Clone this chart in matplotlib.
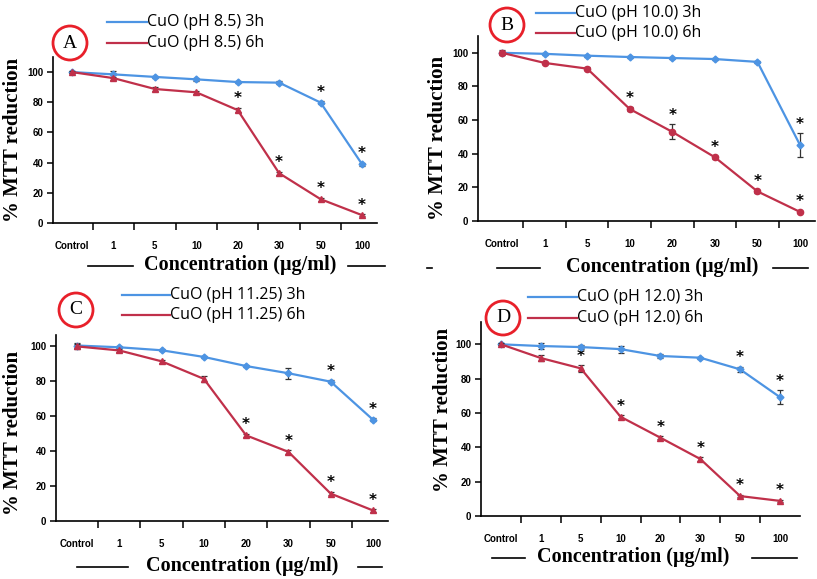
import matplotlib.pyplot as plt
from matplotlib.lines import Line2D
from matplotlib.patches import Ellipse

W, H = 817, 579

categories = ["Control", "1", "5", "10", "20", "30", "50", "100"]

# panel A: CuO pH 8.5
a_3h = [100, 98.5, 96.8, 95.2, 93.4, 93.0, 79.8, 39.0]
a_6h = [100, 96.0, 88.8, 86.6, 74.8, 33.0, 15.8, 5.2]
a_3h_err = [0.5, 2.5, 0.8, 0.8, 0.8, 0.8, 1.0, 1.0]
a_6h_err = [0.8, 1.0, 1.5, 1.2, 1.5, 1.0, 1.0, 0.8]
a_3h_star = [6, 7]
a_6h_star = [4, 5, 6, 7]

# panel B: CuO pH 10.0
b_3h = [100, 99.4, 98.3, 97.5, 96.9, 96.3, 94.6, 45.2]
b_6h = [100, 94.0, 90.6, 66.6, 53.0, 37.9, 17.6, 5.4]
b_3h_err = [0.5, 0.5, 0.5, 0.5, 0.5, 0.5, 0.5, 7.0]
b_6h_err = [1.5, 0.8, 0.8, 1.2, 4.5, 0.8, 0.8, 0.8]
b_3h_star = [7]
b_6h_star = [3, 4, 5, 6, 7]

# panel C: CuO pH 11.25
c_3h = [100, 99.0, 97.3, 93.5, 88.3, 84.2, 79.4, 57.7]
c_6h = [99.5, 97.2, 91.0, 81.0, 48.8, 39.4, 15.6, 6.0]
c_3h_err = [1.5, 0.5, 0.5, 0.8, 0.8, 3.0, 0.8, 0.8]
c_6h_err = [1.5, 0.8, 0.8, 1.5, 1.0, 1.0, 1.0, 0.8]
c_3h_star = [6, 7]
c_6h_star = [4, 5, 6, 7]

# panel D: CuO pH 12.0
d_3h = [100, 99.0, 98.4, 97.2, 93.2, 92.2, 85.4, 69.2]
d_6h = [100, 92.0, 86.0, 57.8, 45.6, 33.2, 11.6, 8.8]
d_3h_err = [0.5, 1.5, 1.0, 2.0, 1.0, 0.5, 1.5, 4.0]
d_6h_err = [0.5, 1.5, 2.0, 1.0, 1.0, 1.0, 0.8, 0.8]
d_3h_star = [6, 7]
d_6h_star = [2, 3, 4, 5, 6, 7]

BLUE = "#4d94e3"
RED = "#c0304a"

# layout in pixels: spine left/right, y of 0, y of top, ymax, centre of first/last category
panels = [
    dict(letter="A", ph="8.5", s3=a_3h, s6=a_6h, e3=a_3h_err, e6=a_6h_err,
         st3=a_3h_star, st6=a_6h_star, m6="^",
         L=53, R=377, B=223, T=57, ymax=110, c0=72, c7=362,
         leg=(107, 147, 22, 43), circ=(70, 43), ylab=(13, 140),
         xlab=(240, 265, (88, 133), (348, 385))),
    dict(letter="B", ph="10.0", s3=b_3h, s6=b_6h, e3=b_3h_err, e6=b_6h_err,
         st3=b_3h_star, st6=b_6h_star, m6="o",
         L=478, R=815, B=221, T=36, ymax=110, c0=502, c7=800,
         leg=(536, 575, 13, 33), circ=(507, 25), ylab=(438, 138),
         xlab=(662, 267, (497, 540), (773, 808))),
    dict(letter="C", ph="11.25", s3=c_3h, s6=c_6h, e3=c_3h_err, e6=c_6h_err,
         st3=c_3h_star, st6=c_6h_star, m6="^",
         L=56, R=388, B=521, T=335, ymax=106, c0=77, c7=373,
         leg=(122, 170, 295, 315), circ=(76, 310), ylab=(13, 433),
         xlab=(242, 566, (77, 128), (358, 382))),
    dict(letter="D", ph="12.0", s3=d_3h, s6=d_6h, e3=d_3h_err, e6=d_6h_err,
         st3=d_3h_star, st6=d_6h_star, m6="^",
         L=481, R=800, B=516, T=322, ymax=113, c0=501, c7=780,
         leg=(528, 577, 297, 318), circ=(503, 318), ylab=(443, 410),
         xlab=(633, 557, (492, 525), (752, 797))),
]


def fx(x):
    return x / W


def fy(y):
    return 1 - y / H


fig = plt.figure(figsize=(W / 100, H / 100), dpi=100)

for p in panels:
    ax = fig.add_axes([fx(p["L"]), fy(p["B"]), (p["R"] - p["L"]) / W, (p["B"] - p["T"]) / H])
    step = (p["c7"] - p["c0"]) / 7
    ax.set_xlim(-(p["c0"] - p["L"]) / step, 7 + (p["R"] - p["c7"]) / step)
    ax.set_ylim(0, p["ymax"])
    x = list(range(len(categories)))

    ax.errorbar(x, p["s3"], yerr=p["e3"], color=BLUE, lw=1.6, marker="D", ms=3.5,
                ecolor="#333333", elinewidth=0.9, capsize=2.5, capthick=0.9, zorder=3)
    ax.errorbar(x, p["s6"], yerr=p["e6"], color=RED, lw=1.6, marker=p["m6"], ms=4.5,
                ecolor="#333333", elinewidth=0.9, capsize=2.5, capthick=0.9, zorder=4)
    for i in p["st3"]:
        ax.annotate("*", (i, p["s3"][i] + p["e3"][i]), xytext=(0, 1), textcoords="offset points",
                    ha="center", va="bottom", fontsize=11, fontweight="bold", color="black")
    for i in p["st6"]:
        ax.annotate("*", (i, p["s6"][i] + p["e6"][i]), xytext=(0, 1), textcoords="offset points",
                    ha="center", va="bottom", fontsize=11, fontweight="bold", color="black")

    for side in ("top", "right"):
        ax.spines[side].set_visible(False)
    ax.spines["left"].set_linewidth(1.2)
    ax.spines["bottom"].set_linewidth(1.2)
    ax.set_yticks([0, 20, 40, 60, 80, 100])
    ax.set_yticklabels(["0", "20", "40", "60", "80", "100"], fontsize=7, fontweight="bold",
                       family="Liberation Sans")
    ax.tick_params(axis="y", length=4, width=1.1, pad=3)
    ax.set_xticks(x)
    ax.set_xticklabels(categories, fontsize=7, fontweight="bold", family="Liberation Sans")
    ax.tick_params(axis="x", which="major", length=0, pad=13)
    ax.set_xticks([i + 0.5 for i in range(7)], minor=True)
    ax.tick_params(axis="x", which="minor", length=5, width=1.1)

    # legend drawn by hand, as in the original
    x1, x2, yb, yr = p["leg"]
    fig.add_artist(Line2D([fx(x1), fx(x2)], [fy(yb), fy(yb)], color=BLUE, lw=1.6))
    fig.add_artist(Line2D([fx(x1), fx(x2)], [fy(yr), fy(yr)], color=RED, lw=1.6))
    fig.text(fx(x2), fy(yb), f"CuO (pH {p['ph']}) 3h", fontsize=11.5, family="Open Sans",
             va="center", ha="left")
    fig.text(fx(x2), fy(yr), f"CuO (pH {p['ph']}) 6h", fontsize=11.5, family="Open Sans",
             va="center", ha="left")

    # panel letter in a red circle
    cx, cy = p["circ"]
    fig.add_artist(Ellipse((fx(cx), fy(cy)), 34 / W, 34 / H, transform=fig.transFigure,
                           fill=False, edgecolor="#e8202a", lw=2))
    fig.text(fx(cx), fy(cy), p["letter"], fontsize=14, family="Liberation Serif",
             ha="center", va="center")

    lx, ly = p["ylab"]
    fig.text(fx(lx), fy(ly), "% MTT reduction", rotation=90, fontsize=15,
             fontweight="bold", family="Liberation Serif", ha="center", va="center")

    tx, ty, lseg, rseg = p["xlab"]
    fig.text(fx(tx), fy(ty), "Concentration (\u03bcg/ml)", fontsize=14.5, fontweight="bold",
             family="Liberation Serif", ha="center", va="center")
    for a, b in (lseg, rseg):
        fig.add_artist(Line2D([fx(a), fx(b)], [fy(ty + 1), fy(ty + 1)], color="black", lw=1.2))

# stray dash left of panel B's axis title
fig.add_artist(Line2D([fx(427), fx(432)], [fy(268), fy(268)], color="black", lw=1.2))

fig.savefig("out.png", dpi=100)
